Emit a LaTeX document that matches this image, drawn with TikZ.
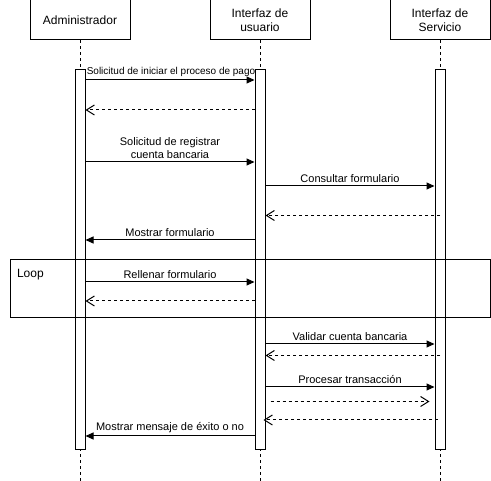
\documentclass[tikz,border=0pt]{standalone}
\usepackage{fontspec}
\setmainfont{Liberation Sans}
\usetikzlibrary{arrows.meta}

\begin{document}
\begin{tikzpicture}[x=1pt,y=-1pt,line width=1pt,
  head/.style={draw, minimum width=100pt, minimum height=40pt, align=center, inner sep=0,
    font=\fontsize{12}{14.5}\selectfont},
  bar/.style={draw, fill=white, minimum width=10pt, minimum height=380pt, inner sep=0},
  life/.style={dash pattern=on 3pt off 3pt},
  msg/.style={-{Triangle[length=8pt,width=7pt]}},
  ret/.style={dash pattern=on 3pt off 3pt, -{Straight Barb[length=8pt,width=10pt]}},
  lbl/.style={above, inner sep=2.5pt, align=center, font=\fontsize{11}{13}\selectfont}]
\useasboundingbox (0,0) rectangle (491,481);

% participants
\node [head] (adm) at (80,20) {Administrador};
\node [head] (ui) at (260,20) {Interfaz de\\usuario};
\node [head] (srv) at (440,20) {Interfaz de\\Servicio};

\coordinate (bottom) at (0,481);
\foreach \n in {adm,ui,srv}
  \draw [life] (\n.south) -- (\n.south |- bottom);

% activations
\node [bar] (admbar) at (80,260) {};
\node [bar] (uibar) at (260,260) {};
\node [bar] (srvbar) at (440,260) {};

% loop frame
\node [draw, minimum width=480pt, minimum height=58pt, inner sep=0, anchor=north west] (loop) at (10,259) {};
\node [anchor=base west, inner sep=0, font=\fontsize{12}{14}\selectfont] (looplbl) at (16.5,277.5) {Loop};

% rows
\coordinate (r1) at (0,80);
\coordinate (r2) at (0,110);
\coordinate (r3) at (0,162);
\coordinate (r4) at (0,186);
\coordinate (r5) at (0,215.5);
\coordinate (r6) at (0,240);
\coordinate (r7) at (0,282);
\coordinate (r8) at (0,301);
\coordinate (r9) at (0,344);
\coordinate (r10) at (0,355.5);
\coordinate (r11) at (0,387);
\coordinate (r12) at (0,401.5);
\coordinate (r13) at (0,420);
\coordinate (r14) at (0,436);

% messages
\draw [msg] (admbar.east |- r1) -- node [lbl, xshift=1pt, font=\fontsize{10}{12}\selectfont] {Solicitud de iniciar el proceso de pago} (uibar.west |- r1);
\draw [ret] (uibar.west |- r2) -- (admbar.east |- r2);
\draw [msg] (admbar.east |- r3) -- node [lbl] {Solicitud de registrar\\cuenta bancaria} (uibar.west |- r3);
\draw [msg] (uibar.east |- r4) -- node [lbl] {Consultar formulario} (srvbar.west |- r4);
\draw [ret] (srvbar.center |- r5) -- (uibar.east |- r5);
\draw [msg] (uibar.west |- r6) -- node [lbl] {Mostrar formulario} (admbar.east |- r6);
\draw [msg] (admbar.east |- r7) -- node [lbl] {Rellenar formulario} (uibar.west |- r7);
\draw [ret] (uibar.west |- r8) -- (admbar.east |- r8);
\draw [msg] (uibar.east |- r9) -- node [lbl] {Validar cuenta bancaria} (srvbar.west |- r9);
\draw [ret] (srvbar.center |- r10) -- (uibar.east |- r10);
\draw [msg] (uibar.east |- r11) -- node [lbl] {Procesar transacción} (srvbar.west |- r11);
\draw [ret] ([xshift=5pt]uibar.east |- r12) -- ([xshift=-5pt]srvbar.west |- r12);
\draw [ret] ([xshift=-2pt]srvbar.center |- r13) -- ([xshift=-2pt]uibar.east |- r13);
\draw [msg] (uibar.west |- r14) -- node [lbl] {Mostrar mensaje de éxito o no} (admbar.east |- r14);

\end{tikzpicture}
\end{document}
